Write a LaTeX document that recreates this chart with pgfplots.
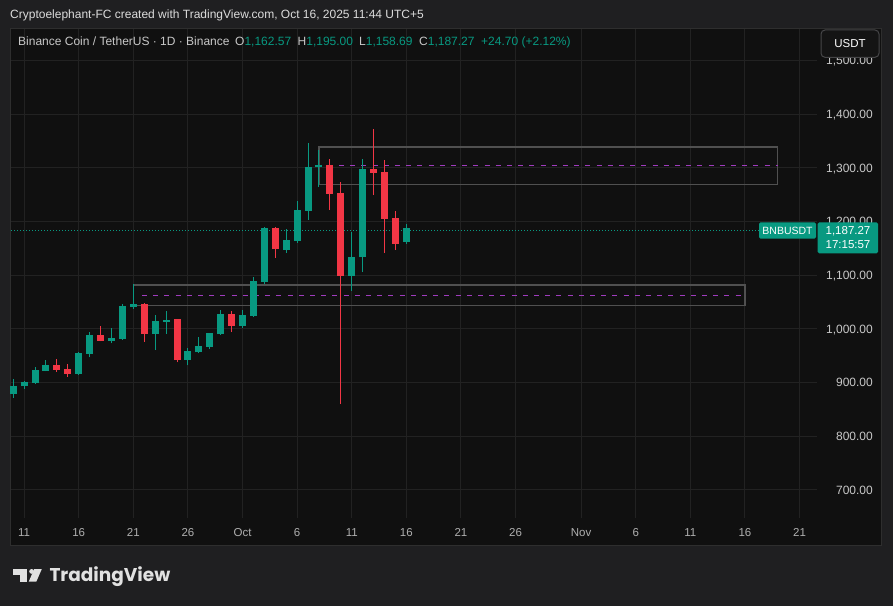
\documentclass[border=0pt]{standalone}
\usepackage{pgfplots}
\pgfplotsset{compat=1.18}
\usepackage{pgfplotstable}
\usepackage{fontspec}
\setmainfont{Liberation Sans}
\newfontfamily\logofont{Poppins}
\definecolor{outerbg}{RGB}{31,31,33}
\definecolor{panelbg}{RGB}{16,16,16}
\definecolor{panelborder}{RGB}{46,46,46}
\definecolor{gridc}{RGB}{34,34,34}
\definecolor{tvgreen}{RGB}{8,153,129}
\definecolor{tvred}{RGB}{242,54,69}
\definecolor{boxc}{RGB}{80,80,80}
\definecolor{purp}{RGB}{160,60,190}
\definecolor{lbl}{RGB}{200,200,200}
\definecolor{datec}{RGB}{175,175,175}
\definecolor{headc}{RGB}{220,220,220}
\definecolor{logoc}{RGB}{225,225,225}
\definecolor{btnc}{RGB}{70,70,72}
\definecolor{btnfill}{RGB}{20,20,20}

% day index: Oct 1 = 0
\pgfplotstableread{
d o h l c
-21 879 907 872 894
-20 893 904 889 901
-19 900 929 898 924
-18 922 942 921 933
-15 917 958 915 956
-14 954 994 947 989
-12 978 1001 973 983
-11 982 1047 980 1043
-10 1041.5 1083 1038 1046.5
-8 990.7 1026 961 1015
-7 1013.6 1033.5 990.7 1017
-5 942 964 932 959
-4 956.5 985.7 955 969
-3 967 992.5 962.8 992.5
-2 990.7 1036 989 1028
0 1005.6 1036 1002 1026
1 1024 1097 1022 1089
2 1087 1190 1083 1188.6
4 1147 1185.6 1142 1165.7
5 1163.9 1239 1160.7 1221.6
6 1219.7 1345.8 1204 1302
7 1301 1333 1265 1305.4
10 1099 1180 1071 1134
11 1133.5 1316 1106.7 1299
15 1162.57 1195 1158.69 1187.27
}\greencandles

\pgfplotstableread{
d o h l c
-17 933 944 920 924
-16 925.5 935 911 917
-13 989 1006 977 978
-9 1046.5 1048 976 990.7
-6 1018 1019 938 942
-1 1028 1033.5 994 1005.6
3 1188.6 1190 1132.8 1148.4
8 1305.4 1316 1222.5 1252
9 1253 1274 860 1099
12 1299 1372 1249.5 1291
13 1292 1314.7 1142 1205.4
14 1206.7 1219.7 1147.5 1159
}\redcandles

\begin{document}
\begin{tikzpicture}[x=1pt,y=1pt]
\fill[outerbg] (0,0) rectangle (893,606);
\fill[panelbg] (10,60) rectangle (882,578);
\draw[panelborder, line width=1pt] (10.5,60.5) rectangle (881.5,577.5);

\begin{axis}[
  at={(11pt,88pt)}, anchor=south west,
  width=806pt, height=489pt, scale only axis,
  xmin=-21.2, xmax=52.6, ymin=647.8, ymax=1559,
  enlargelimits=false,
  axis line style={draw=none},
  major tick length=0pt,
  grid=major, grid style={draw=gridc, line width=1pt},
  xtick={-20,-15,-10,-5,0,5,10,15,20,25,31,36,41,46,51},
  xticklabels={11,16,21,26,Oct,6,11,16,21,26,Nov,6,11,16,21},
  xticklabel style={font=\fontsize{11.5}{12}\selectfont, text=datec, anchor=base, inner sep=0pt, yshift=-18pt},
  ytick={700,800,900,1000,1100,1200,1300,1400,1500},
  yticklabels={700.00,800.00,900.00,{1,000.00},{1,100.00},{1,200.00},{1,300.00},{1,400.00},{1,500.00}},
  yticklabel pos=right,
  yticklabel style={font=\fontsize{12}{12}\selectfont, text=lbl, anchor=base east, inner sep=0pt, xshift=56pt, yshift=-4.2pt},
  clip=false,
]
% zones
\addplot[draw=boxc, line width=1.6pt] coordinates {(-10,1044) (46,1044) (46,1082.5) (-10,1082.5) (-10,1044)};
\addplot[draw=purp, line width=1.1pt, dash pattern=on 5pt off 6.2pt] coordinates {(-9.2,1063) (46,1063)};
\addplot[draw=boxc, line width=1.6pt] coordinates {(7,1269) (49,1269) (49,1339.5) (7,1339.5) (7,1269)};
\addplot[draw=purp, line width=1.1pt, dash pattern=on 5pt off 6.2pt] coordinates {(7.8,1304) (49,1304)};
% last price line
\addplot[draw=tvgreen, line width=0.9pt, dash pattern=on 1pt off 2pt] coordinates {(-21.2,1184) (47.3,1184)};
% wicks
\addplot[forget plot, draw=none, mark=none, error bars/.cd, y dir=plus, y explicit, error mark=none,
  error bar style={draw=tvgreen, line width=1pt}]
  table[x=d, y=l, y error expr=\thisrow{h}-\thisrow{l}] {\greencandles};
\addplot[forget plot, draw=none, mark=none, error bars/.cd, y dir=plus, y explicit, error mark=none,
  error bar style={draw=tvred, line width=1pt}]
  table[x=d, y=l, y error expr=\thisrow{h}-\thisrow{l}] {\redcandles};
% bodies
\addplot[forget plot, draw=none, mark=none, error bars/.cd, y dir=plus, y explicit, error mark=none,
  error bar style={draw=tvgreen, line width=7pt}]
  table[x=d, y=o, y error expr=\thisrow{c}-\thisrow{o}] {\greencandles};
\addplot[forget plot, draw=none, mark=none, error bars/.cd, y dir=plus, y explicit, error mark=none,
  error bar style={draw=tvred, line width=7pt}]
  table[x=d, y=c, y error expr=\thisrow{o}-\thisrow{c}] {\redcandles};
\end{axis}

% header
\node[anchor=base west, inner sep=0pt, text=headc, font=\fontsize{12}{12}\selectfont] at (10,587)
  {Cryptoelephant-FC created with TradingView.com, Oct 16, 2025 11:44 UTC+5};
% legend line
\begin{scope}[every node/.style={anchor=base west, inner sep=0pt, text=lbl, font=\fontsize{12}{12}\selectfont}]
\node at (18,560) {Binance Coin / TetherUS · 1D · Binance};
\node at (235,560) {O\textcolor{tvgreen}{1,162.57}};
\node at (297.5,560) {H\textcolor{tvgreen}{1,195.00}};
\node at (359,560) {L\textcolor{tvgreen}{1,158.69}};
\node at (419,560) {C\textcolor{tvgreen}{1,187.27\ \ +24.70 (+2.12\%)}};
\end{scope}
% USDT button (covers the top of the 1,500.00 label as in the reference)
\fill[panelbg] (818,547.5) rectangle (881,576);
\draw[draw=btnc, fill=btnfill, line width=1pt, rounded corners=4pt] (821,548.7) rectangle (879,576);
\node[text=white, font=\fontsize{11.5}{12}\selectfont, inner sep=0pt] at (850,562.3) {USDT};
% price labels
\fill[tvgreen, rounded corners=1.5pt] (759,367.3) rectangle (816,383.7);
\node[text=white, font=\fontsize{10.5}{11}\selectfont, inner sep=0pt] at (787.5,375.5) {BNBUSDT};
\fill[tvgreen, rounded corners=1.5pt] (817.7,352.7) rectangle (878,383.7);
\node[text=white, font=\fontsize{11.5}{12}\selectfont, inner sep=0pt, anchor=base] at (848,371.3) {1,187.27};
\node[text=white, font=\fontsize{11.5}{12}\selectfont, inner sep=0pt, anchor=base] at (848,357.3) {17:15:57};
% TradingView logo
\fill[logoc] (12.7,37) rectangle (27.3,31);
\fill[logoc] (20,37) rectangle (27.3,24.3);
\fill[logoc] (31.6,34.6) circle (2.4);
\fill[logoc] (34.2,37) -- (41.8,37) -- (36.3,24.3) -- (28.7,24.3) -- cycle;
\node[anchor=base west, inner sep=0pt, text=logoc, font=\logofont\bfseries\fontsize{18.5}{19}\selectfont] at (49.3,24.3) {TradingView};
\end{tikzpicture}
\end{document}
